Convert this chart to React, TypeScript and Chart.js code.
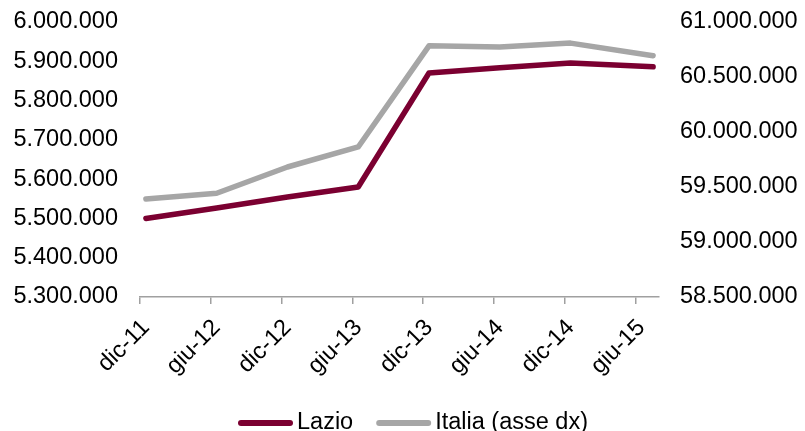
import React, { useEffect, useRef } from 'react';
import { Chart, registerables } from 'chart.js';

Chart.register(...registerables);

// Month index (counted from dic-11) of each labelled tick on the time axis
const tickMonths = [0, 6, 12, 18, 24, 30, 36, 42];
const tickLabels = ['dic-11', 'giu-12', 'dic-12', 'giu-13', 'dic-13', 'giu-14', 'dic-14', 'giu-15'];

// Month index of each observation (the last one is a month after giu-15)
const obsMonths = [0, 6, 12, 18, 24, 30, 36, 43];

// Resident population
const lazio = [5500000, 5526500, 5554500, 5580000, 5870000, 5883500, 5895500, 5886000];
const italia = [59391000, 59443000, 59682000, 59864000, 60783000, 60773000, 60808000, 60694000];

const FONT = "'Liberation Sans', Arial, Helvetica, sans-serif";
const FONT_SIZE = 23.5;
const LAZIO_COLOR = '#7B0031';
const ITALIA_COLOR = '#A6A6A6';
const AXIS_COLOR = '#A0A0A0';

const dotted = (v: number) =>
  Math.round(v).toString().replace(/\B(?=(\d{3})+(?!\d))/g, '.');

// Points sit in the middle of their month on the time axis
const points = (values: number[]) =>
  obsMonths.map((m, i) => ({ x: m + 0.5, y: values[i] }));

// Fixed-width value axis that does not reserve extra room above/below the plot
const fixedWidth = (width: number) => (s: any) => {
  s.width = width;
  s.paddingTop = 0;
  s.paddingBottom = 0;
};

// Legend drawn as short thick lines followed by the series name
const lineLegend = {
  id: 'lineLegend',
  afterDraw(chart: any) {
    const ctx = chart.ctx as CanvasRenderingContext2D;
    ctx.save();
    ctx.font = `${FONT_SIZE}px ${FONT}`;
    ctx.textBaseline = 'middle';
    ctx.textAlign = 'left';
    const y = 423;
    let x = 238;
    chart.data.datasets.forEach((ds: any) => {
      ctx.strokeStyle = ds.borderColor;
      ctx.lineWidth = 6;
      ctx.lineCap = 'round';
      ctx.beginPath();
      ctx.moveTo(x + 3, y);
      ctx.lineTo(x + 52, y);
      ctx.stroke();
      ctx.fillStyle = '#000';
      ctx.fillText(ds.label, x + 59, y);
      x += 59 + ctx.measureText(ds.label).width + 23;
    });
    ctx.restore();
  },
};

export default function App() {
  const canvasRef = useRef<HTMLCanvasElement | null>(null);

  useEffect(() => {
    if (!canvasRef.current) return;
    const tickFont = { family: FONT, size: FONT_SIZE };
    const chart = new Chart(canvasRef.current, {
      type: 'line',
      data: {
        datasets: [
          {
            label: 'Lazio',
            data: points(lazio),
            yAxisID: 'y',
            borderColor: LAZIO_COLOR,
            backgroundColor: LAZIO_COLOR,
            borderWidth: 5.5,
            pointRadius: 0,
            tension: 0,
            borderCapStyle: 'round',
            borderJoinStyle: 'round',
          },
          {
            label: 'Italia (asse dx)',
            data: points(italia),
            yAxisID: 'y1',
            borderColor: ITALIA_COLOR,
            backgroundColor: ITALIA_COLOR,
            borderWidth: 5.5,
            pointRadius: 0,
            tension: 0,
            borderCapStyle: 'round',
            borderJoinStyle: 'round',
          },
        ],
      },
      options: {
        animation: false,
        responsive: false,
        events: [],
        layout: { padding: { top: 22, left: 0, right: 0, bottom: 0 } },
        plugins: {
          legend: { display: false },
          tooltip: { enabled: false },
        },
        scales: {
          x: {
            type: 'linear',
            position: 'bottom',
            min: 0,
            max: 44,
            afterBuildTicks: (s: any) => {
              s.ticks = tickMonths.map((v) => ({ value: v }));
            },
            afterFit: (s: any) => {
              s.height = 134;
            },
            ticks: {
              autoSkip: false,
              minRotation: 45,
              maxRotation: 45,
              labelOffset: 6,
              padding: 10,
              color: '#000',
              font: tickFont,
              callback: (v: any) => tickLabels[tickMonths.indexOf(Number(v))],
            },
            grid: {
              display: true,
              drawOnChartArea: false,
              drawTicks: true,
              tickLength: 7,
              color: AXIS_COLOR,
              lineWidth: 1.5,
            },
            border: { display: true, color: AXIS_COLOR, width: 1.5 },
          },
          y: {
            position: 'left',
            min: 5300000,
            max: 6000000,
            afterFit: fixedWidth(140),
            ticks: {
              stepSize: 100000,
              padding: 22,
              color: '#000',
              font: tickFont,
              callback: (v: any) => dotted(Number(v)),
            },
            grid: { display: false, drawTicks: false },
            border: { display: false },
          },
          y1: {
            position: 'right',
            min: 58500000,
            max: 61000000,
            afterFit: fixedWidth(146),
            ticks: {
              stepSize: 500000,
              padding: 21,
              color: '#000',
              font: tickFont,
              callback: (v: any) => dotted(Number(v)),
            },
            grid: { display: false, drawTicks: false },
            border: { display: false },
          },
        },
      },
      plugins: [lineLegend],
    });
    return () => chart.destroy();
  }, []);

  return (
    <div
      style={{
        position: 'fixed',
        left: 0,
        top: 0,
        width: 805,
        height: 431,
        overflow: 'hidden',
        background: '#fff',
      }}
    >
      <canvas ref={canvasRef} width={805} height={431} style={{ display: 'block' }} />
    </div>
  );
}
